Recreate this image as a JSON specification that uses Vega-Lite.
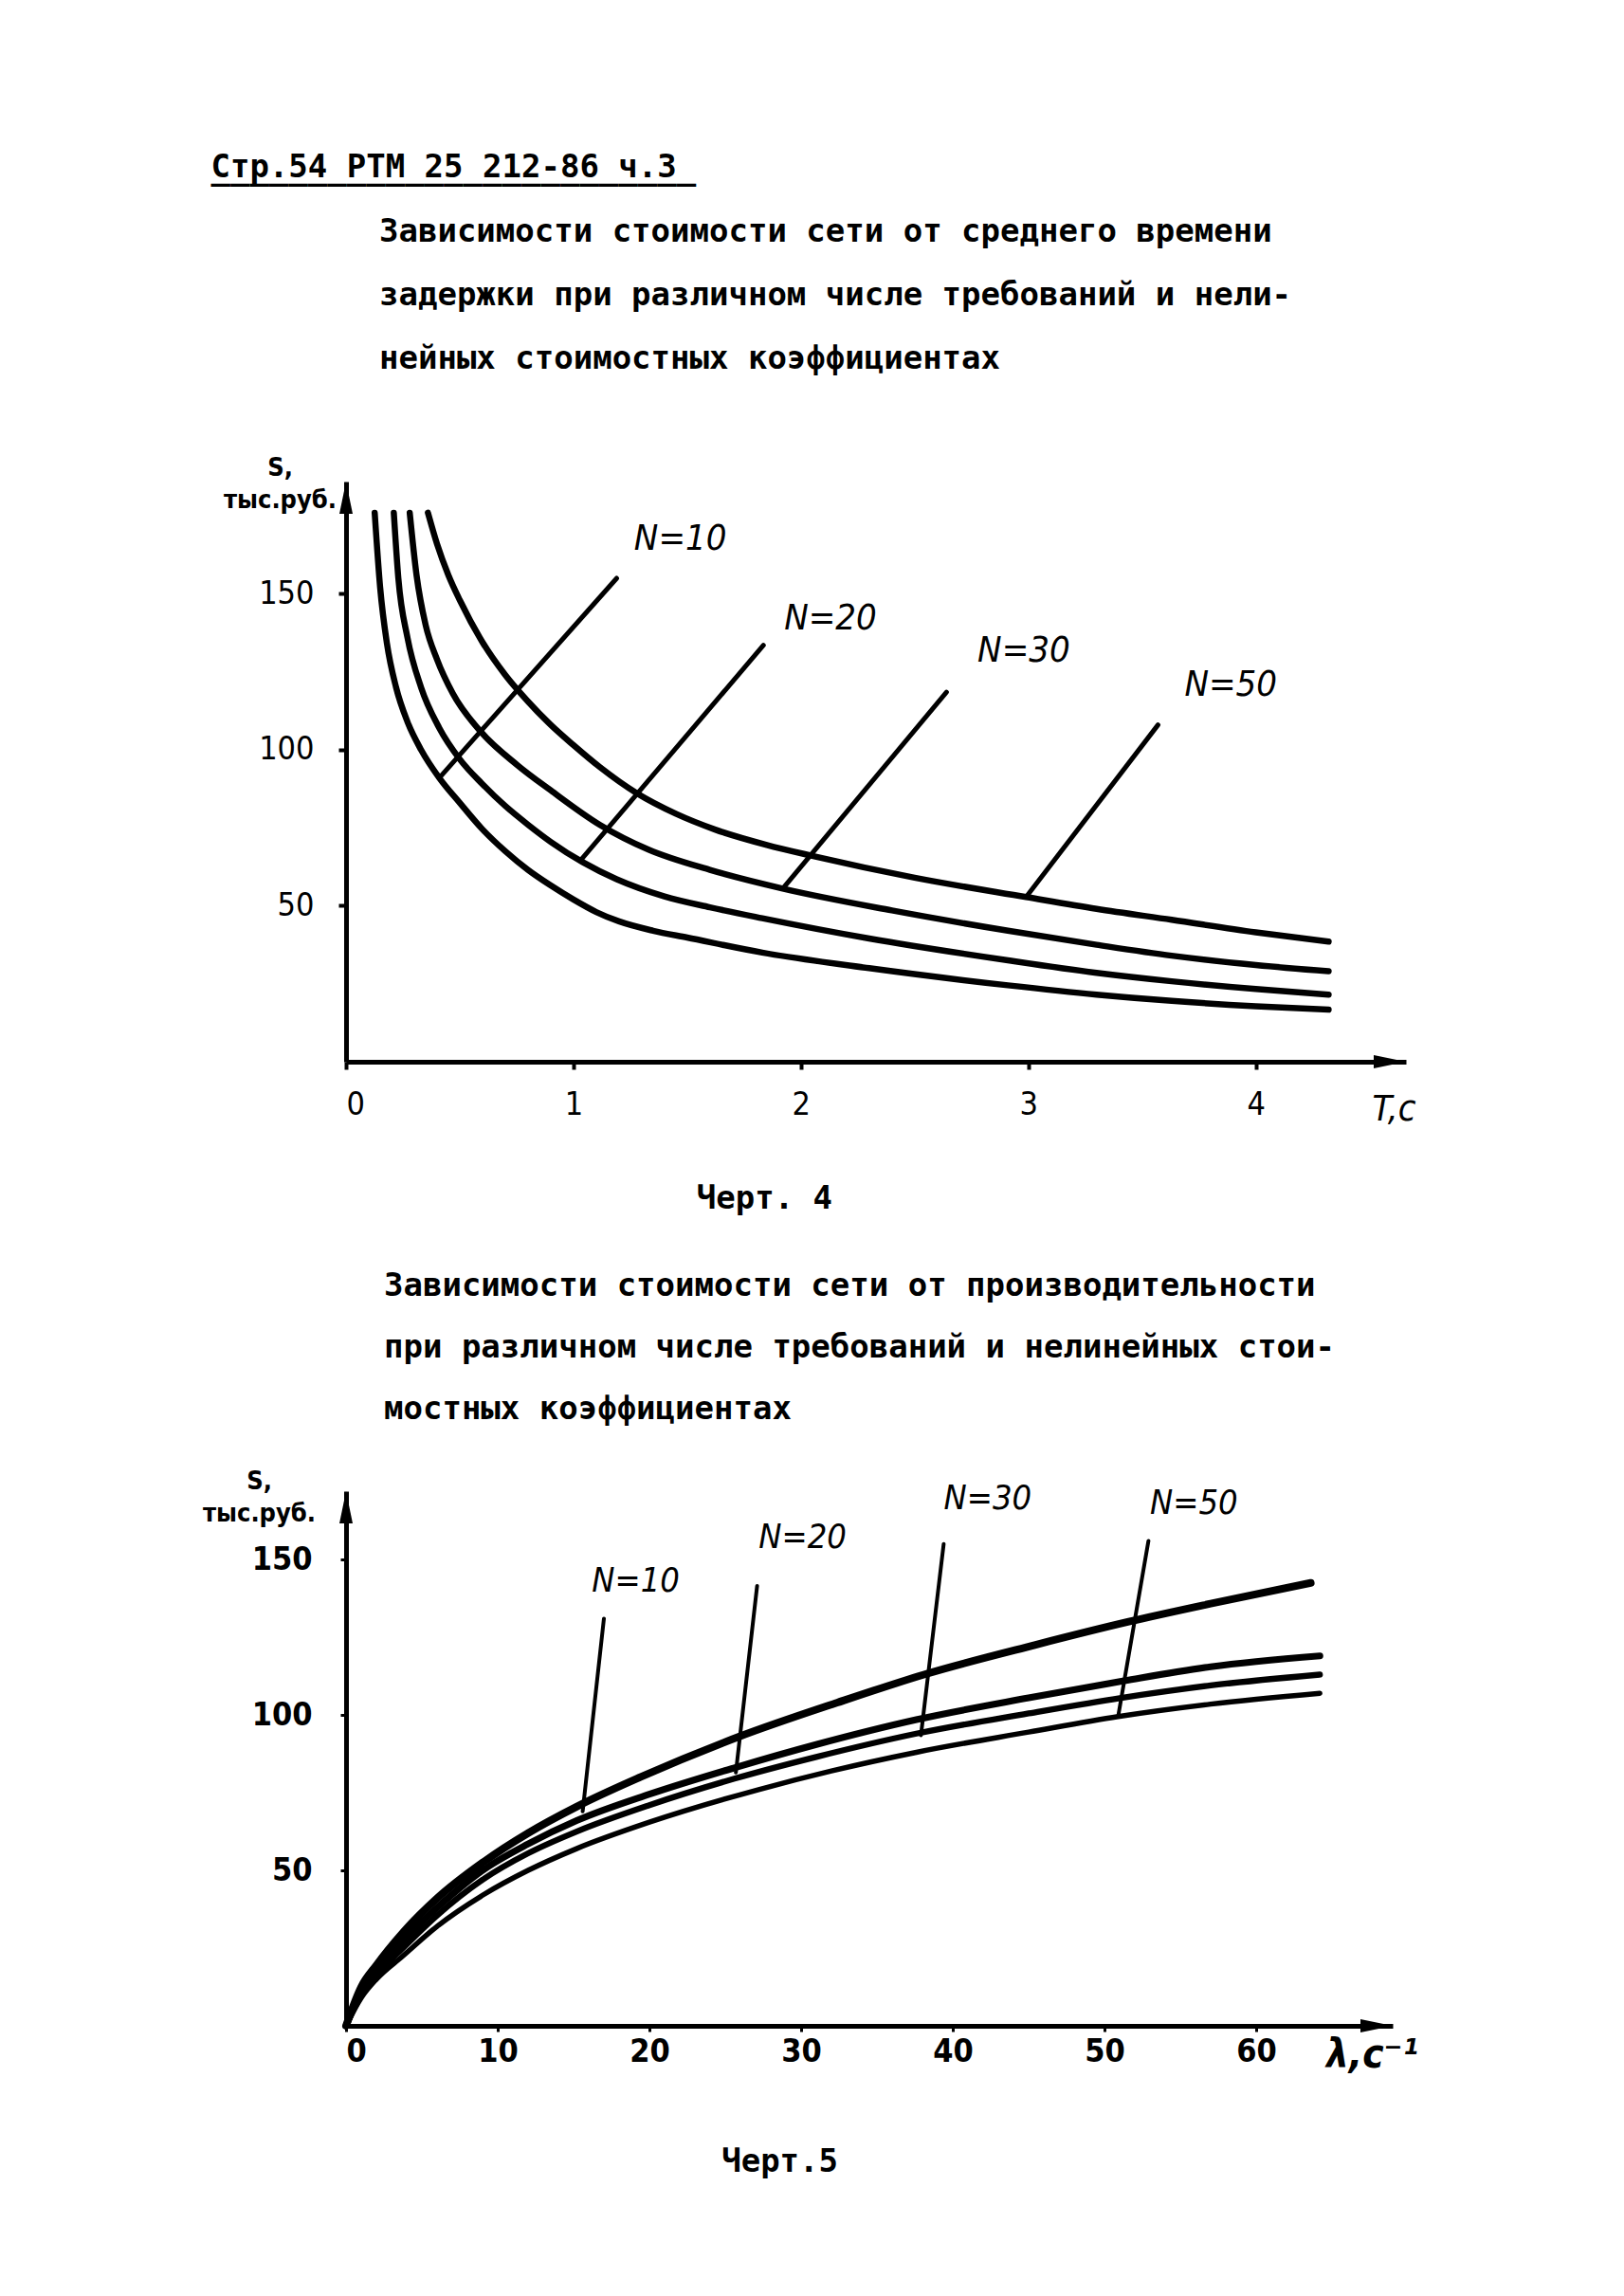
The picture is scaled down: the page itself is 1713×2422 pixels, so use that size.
{
  "$schema": "https://vega.github.io/schema/vega-lite/v6.json",
  "background": "white",
  "padding": {"left": 213, "top": 160, "right": 20, "bottom": 20},
  "title": {
    "text": "Стр.54 РТМ 25 212-86 ч.3",
    "subtitle": "_________________________",
    "anchor": "start",
    "frame": "bounds",
    "dx": 9,
    "offset": 32,
    "font": "DejaVu Sans Mono",
    "fontSize": 34,
    "fontWeight": "bold",
    "color": "black",
    "subtitleFont": "DejaVu Sans Mono",
    "subtitleFontSize": 34,
    "subtitleFontWeight": "bold",
    "subtitleColor": "black",
    "subtitlePadding": -32
  },
  "spacing": 58,
  "datasets": {
    "c1curves": [
      {"curve": "N=10", "T": 0.126, "S": 176}, {"curve": "N=10", "T": 0.15, "S": 152}, {"curve": "N=10", "T": 0.18, "S": 134}, {"curve": "N=10", "T": 0.22, "S": 120}, {"curve": "N=10", "T": 0.27, "S": 109}, {"curve": "N=10", "T": 0.33, "S": 100}, {"curve": "N=10", "T": 0.41, "S": 91}, {"curve": "N=10", "T": 0.5, "S": 83}, {"curve": "N=10", "T": 0.6, "S": 74.5}, {"curve": "N=10", "T": 0.7, "S": 67.5}, {"curve": "N=10", "T": 0.8, "S": 61.5}, {"curve": "N=10", "T": 0.9, "S": 56.5}, {"curve": "N=10", "T": 1.0, "S": 52}, {"curve": "N=10", "T": 1.1, "S": 48}, {"curve": "N=10", "T": 1.2, "S": 45}, {"curve": "N=10", "T": 1.35, "S": 42}, {"curve": "N=10", "T": 1.5, "S": 39.8}, {"curve": "N=10", "T": 1.83, "S": 35}, {"curve": "N=10", "T": 2.3, "S": 30}, {"curve": "N=10", "T": 2.91, "S": 24.5}, {"curve": "N=10", "T": 3.3, "S": 21.5}, {"curve": "N=10", "T": 3.63, "S": 19.5}, {"curve": "N=10", "T": 4.0, "S": 17.8}, {"curve": "N=10", "T": 4.32, "S": 16.7},
      {"curve": "N=20", "T": 0.21, "S": 176}, {"curve": "N=20", "T": 0.23, "S": 155}, {"curve": "N=20", "T": 0.27, "S": 136}, {"curve": "N=20", "T": 0.33, "S": 120}, {"curve": "N=20", "T": 0.41, "S": 107}, {"curve": "N=20", "T": 0.5, "S": 97}, {"curve": "N=20", "T": 0.6, "S": 89}, {"curve": "N=20", "T": 0.7, "S": 82}, {"curve": "N=20", "T": 0.8, "S": 76}, {"curve": "N=20", "T": 0.9, "S": 70.5}, {"curve": "N=20", "T": 1.04, "S": 64}, {"curve": "N=20", "T": 1.19, "S": 58.5}, {"curve": "N=20", "T": 1.4, "S": 53}, {"curve": "N=20", "T": 1.6, "S": 49.5}, {"curve": "N=20", "T": 1.83, "S": 46}, {"curve": "N=20", "T": 2.3, "S": 39.5}, {"curve": "N=20", "T": 2.91, "S": 32.5}, {"curve": "N=20", "T": 3.3, "S": 28.5}, {"curve": "N=20", "T": 3.63, "S": 25.8}, {"curve": "N=20", "T": 4.0, "S": 23.3}, {"curve": "N=20", "T": 4.32, "S": 21.5},
      {"curve": "N=30", "T": 0.28, "S": 176}, {"curve": "N=30", "T": 0.31, "S": 156}, {"curve": "N=30", "T": 0.35, "S": 140}, {"curve": "N=30", "T": 0.4, "S": 129}, {"curve": "N=30", "T": 0.47, "S": 118}, {"curve": "N=30", "T": 0.59, "S": 106}, {"curve": "N=30", "T": 0.755, "S": 95}, {"curve": "N=30", "T": 0.9, "S": 87}, {"curve": "N=30", "T": 1.115, "S": 76}, {"curve": "N=30", "T": 1.33, "S": 68}, {"curve": "N=30", "T": 1.6, "S": 61.5}, {"curve": "N=30", "T": 1.92, "S": 55.5}, {"curve": "N=30", "T": 2.4, "S": 48.5}, {"curve": "N=30", "T": 2.91, "S": 42}, {"curve": "N=30", "T": 3.3, "S": 37.5}, {"curve": "N=30", "T": 3.63, "S": 34}, {"curve": "N=30", "T": 4.0, "S": 31}, {"curve": "N=30", "T": 4.32, "S": 29},
      {"curve": "N=50", "T": 0.36, "S": 176}, {"curve": "N=50", "T": 0.4, "S": 166}, {"curve": "N=50", "T": 0.45, "S": 156}, {"curve": "N=50", "T": 0.5, "S": 148}, {"curve": "N=50", "T": 0.6, "S": 134.5}, {"curve": "N=50", "T": 0.7, "S": 124}, {"curve": "N=50", "T": 0.8, "S": 115.5}, {"curve": "N=50", "T": 0.9, "S": 108}, {"curve": "N=50", "T": 1.0, "S": 101.5}, {"curve": "N=50", "T": 1.115, "S": 94.5}, {"curve": "N=50", "T": 1.28, "S": 86}, {"curve": "N=50", "T": 1.45, "S": 79.5}, {"curve": "N=50", "T": 1.62, "S": 74.5}, {"curve": "N=50", "T": 1.85, "S": 69.5}, {"curve": "N=50", "T": 2.05, "S": 66}, {"curve": "N=50", "T": 2.5, "S": 59}, {"curve": "N=50", "T": 2.99, "S": 52.8}, {"curve": "N=50", "T": 3.3, "S": 49}, {"curve": "N=50", "T": 3.63, "S": 45.5}, {"curve": "N=50", "T": 4.0, "S": 41.5}, {"curve": "N=50", "T": 4.32, "S": 38.5}
    ],
    "c1leaders": [
      {"leader": "N=10", "T": 0.41, "S": 91}, {"leader": "N=10", "T": 1.19, "S": 155},
      {"leader": "N=20", "T": 1.03, "S": 64.5}, {"leader": "N=20", "T": 1.835, "S": 133.5},
      {"leader": "N=30", "T": 1.92, "S": 55.5}, {"leader": "N=30", "T": 2.64, "S": 118.5},
      {"leader": "N=50", "T": 2.99, "S": 52.8}, {"leader": "N=50", "T": 3.57, "S": 108}
    ],
    "c1labels": [
      {"label": "N=10", "T": 1.47, "S": 167.5},
      {"label": "N=20", "T": 2.13, "S": 142},
      {"label": "N=30", "T": 2.98, "S": 131.6},
      {"label": "N=50", "T": 3.89, "S": 120.8}
    ],
    "c2curves": [
      {"curve": "N=10", "L": 0, "S": 0}, {"curve": "N=10", "L": 1, "S": 12.5}, {"curve": "N=10", "L": 2, "S": 19.5}, {"curve": "N=10", "L": 3.75, "S": 30}, {"curve": "N=10", "L": 6, "S": 41}, {"curve": "N=10", "L": 9, "S": 52.5}, {"curve": "N=10", "L": 12, "S": 62}, {"curve": "N=10", "L": 15.2, "S": 70.5}, {"curve": "N=10", "L": 19.4, "S": 80}, {"curve": "N=10", "L": 25.9, "S": 93}, {"curve": "N=10", "L": 32.4, "S": 104}, {"curve": "N=10", "L": 38.1, "S": 113}, {"curve": "N=10", "L": 45.4, "S": 122.5}, {"curve": "N=10", "L": 51.6, "S": 130}, {"curve": "N=10", "L": 57, "S": 135.8}, {"curve": "N=10", "L": 63.6, "S": 142.5},
      {"curve": "N=20", "L": 0, "S": 0}, {"curve": "N=20", "L": 1, "S": 11}, {"curve": "N=20", "L": 2, "S": 18}, {"curve": "N=20", "L": 3.75, "S": 27.5}, {"curve": "N=20", "L": 6, "S": 38}, {"curve": "N=20", "L": 9, "S": 50}, {"curve": "N=20", "L": 12, "S": 58.5}, {"curve": "N=20", "L": 15.2, "S": 66}, {"curve": "N=20", "L": 20, "S": 74.5}, {"curve": "N=20", "L": 25.6, "S": 83}, {"curve": "N=20", "L": 31, "S": 90.5}, {"curve": "N=20", "L": 37.6, "S": 98.5}, {"curve": "N=20", "L": 45, "S": 105.5}, {"curve": "N=20", "L": 51.3, "S": 111}, {"curve": "N=20", "L": 57, "S": 115.5}, {"curve": "N=20", "L": 64.2, "S": 119},
      {"curve": "N=30", "L": 0, "S": 0}, {"curve": "N=30", "L": 1, "S": 10}, {"curve": "N=30", "L": 2, "S": 16.5}, {"curve": "N=30", "L": 3.75, "S": 25}, {"curve": "N=30", "L": 6, "S": 35.5}, {"curve": "N=30", "L": 9, "S": 47}, {"curve": "N=30", "L": 12, "S": 55.5}, {"curve": "N=30", "L": 15.2, "S": 62.5}, {"curve": "N=30", "L": 20, "S": 71}, {"curve": "N=30", "L": 25.6, "S": 79.5}, {"curve": "N=30", "L": 31, "S": 86.5}, {"curve": "N=30", "L": 37.6, "S": 94}, {"curve": "N=30", "L": 45, "S": 100.5}, {"curve": "N=30", "L": 51.1, "S": 105.5}, {"curve": "N=30", "L": 57, "S": 109.5}, {"curve": "N=30", "L": 64.2, "S": 113},
      {"curve": "N=50", "L": 0, "S": 0}, {"curve": "N=50", "L": 1, "S": 9}, {"curve": "N=50", "L": 2, "S": 15}, {"curve": "N=50", "L": 3.75, "S": 22.5}, {"curve": "N=50", "L": 6, "S": 32}, {"curve": "N=50", "L": 9, "S": 42}, {"curve": "N=50", "L": 12, "S": 50}, {"curve": "N=50", "L": 15.2, "S": 57}, {"curve": "N=50", "L": 20, "S": 65.5}, {"curve": "N=50", "L": 27.2, "S": 76}, {"curve": "N=50", "L": 32, "S": 82}, {"curve": "N=50", "L": 37.6, "S": 88}, {"curve": "N=50", "L": 45, "S": 94.5}, {"curve": "N=50", "L": 50.9, "S": 99.5}, {"curve": "N=50", "L": 57, "S": 103.5}, {"curve": "N=50", "L": 64.2, "S": 107}
    ],
    "c2leaders": [
      {"leader": "N=10", "L": 15.6, "S": 69}, {"leader": "N=10", "L": 17.0, "S": 131},
      {"leader": "N=20", "L": 25.7, "S": 81.5}, {"leader": "N=20", "L": 27.1, "S": 141.5},
      {"leader": "N=30", "L": 37.9, "S": 93.5}, {"leader": "N=30", "L": 39.4, "S": 155},
      {"leader": "N=50", "L": 50.9, "S": 99.5}, {"leader": "N=50", "L": 52.9, "S": 156}
    ],
    "c2labels": [
      {"label": "N=10", "L": 19.1, "S": 143},
      {"label": "N=20", "L": 30.1, "S": 157},
      {"label": "N=30", "L": 42.3, "S": 169.5},
      {"label": "N=50", "L": 55.9, "S": 168}
    ],
    "anchor": [{}]
  },
  "vconcat": [
    {
      "width": 1118,
      "height": 612,
      "title": {
        "text": ["Зависимости стоимости сети от среднего времени", "задержки при различном числе требований и нели-", "нейных стоимостных коэффициентах"],
        "anchor": "start",
        "frame": "group",
        "dx": 35,
        "offset": 83,
        "lineHeight": 67,
        "font": "DejaVu Sans Mono",
        "fontSize": 34,
        "fontWeight": "bold",
        "color": "black"
      },
      "layer": [
        {
          "data": {"name": "c1curves"},
          "mark": {"type": "line", "color": "black", "strokeWidth": 6.5, "interpolate": "monotone", "strokeCap": "round"},
          "encoding": {
            "x": {"field": "T", "type": "quantitative",
              "scale": {"domain": [0, 4.66], "nice": false, "zero": false},
              "axis": {"values": [0, 1, 2, 3, 4], "format": "d", "grid": false,
                "domainColor": "black", "domainWidth": 5, "tickColor": "black", "tickSize": 8, "tickWidth": 4,
                "labelFont": "DejaVu Sans Condensed, Liberation Sans, sans-serif", "labelFontSize": 34, "labelColor": "black", "labelPadding": 20,
                "title": "T,c", "titleFont": "DejaVu Sans Condensed, Liberation Sans, sans-serif", "titleFontSize": 38, "titleFontStyle": "italic", "titleFontWeight": "normal", "titleColor": "black",
                "titleAngle": 0, "titleAlign": "center", "titleBaseline": "middle", "titleX": 1105, "titleY": 50}},
            "y": {"field": "S", "type": "quantitative",
              "scale": {"domain": [0, 186], "nice": false, "zero": false},
              "axis": {"values": [50, 100, 150], "grid": false,
                "domainColor": "black", "domainWidth": 5, "tickColor": "black", "tickSize": 8, "tickWidth": 4,
                "labelFont": "DejaVu Sans Condensed, Liberation Sans, sans-serif", "labelFontSize": 34, "labelColor": "black", "labelPadding": 26,
                "title": ["S,", "тыс.руб."], "titleFont": "DejaVu Sans Condensed, Liberation Sans, sans-serif", "titleFontSize": 27, "titleFontWeight": "bold", "titleColor": "black",
                "titleAngle": 0, "titleAlign": "center", "titleBaseline": "top", "titleX": -70, "titleY": -28, "titleLineHeight": 34}},
            "detail": {"field": "curve"}
          }
        },
        {
          "data": {"name": "c1leaders"},
          "mark": {"type": "line", "color": "black", "strokeWidth": 5, "strokeCap": "round"},
          "encoding": {
            "x": {"field": "T", "type": "quantitative"},
            "y": {"field": "S", "type": "quantitative"},
            "detail": {"field": "leader"}
          }
        },
        {
          "data": {"name": "c1labels"},
          "mark": {"type": "text", "font": "DejaVu Sans Condensed, Liberation Sans, sans-serif", "fontSize": 38, "fontStyle": "italic", "align": "center", "baseline": "middle", "color": "black"},
          "encoding": {
            "x": {"field": "T", "type": "quantitative"},
            "y": {"field": "S", "type": "quantitative"},
            "text": {"field": "label"}
          }
        },
        {
          "data": {"name": "anchor"},
          "mark": {"type": "text", "font": "DejaVu Sans Mono", "fontSize": 34, "fontWeight": "bold", "align": "center", "baseline": "middle", "color": "black"},
          "encoding": {
            "x": {"datum": 1.84, "type": "quantitative"},
            "y": {"datum": -44, "type": "quantitative"},
            "text": {"value": "Черт. 4"}
          }
        },
        {
          "data": {"name": "anchor"},
          "mark": {"type": "point", "filled": true, "color": "black", "opacity": 1, "size": 400, "shape": "M0,0L-0.7,3.4L0.7,3.4Z"},
          "encoding": {
            "x": {"datum": 0, "type": "quantitative"},
            "y": {"datum": 186, "type": "quantitative"}
          }
        },
        {
          "data": {"name": "anchor"},
          "mark": {"type": "point", "filled": true, "color": "black", "opacity": 1, "size": 400, "shape": "M0,0L-3.4,-0.7L-3.4,0.7Z"},
          "encoding": {
            "x": {"datum": 4.66, "type": "quantitative"},
            "y": {"datum": 0, "type": "quantitative"}
          }
        }
      ]
    },
    {
      "width": 1104,
      "height": 564,
      "title": {
        "text": ["Зависимости стоимости сети от производительности", "при различном числе требований и нелинейных стои-", "мостных коэффициентах"],
        "anchor": "start",
        "frame": "group",
        "dx": 40,
        "offset": 44,
        "lineHeight": 65,
        "font": "DejaVu Sans Mono",
        "fontSize": 34,
        "fontWeight": "bold",
        "color": "black"
      },
      "layer": [
        {
          "data": {"name": "c2curves"},
          "mark": {"type": "line", "color": "black", "interpolate": "monotone", "strokeCap": "round"},
          "encoding": {
            "x": {"field": "L", "type": "quantitative",
              "scale": {"domain": [0, 69], "nice": false, "zero": false},
              "axis": {"values": [0, 10, 20, 30, 40, 50, 60], "format": "d", "grid": false,
                "domainColor": "black", "domainWidth": 5, "tickColor": "black", "tickSize": 6, "tickWidth": 3,
                "labelFont": "DejaVu Sans Condensed, Liberation Sans, sans-serif", "labelFontSize": 34, "labelFontWeight": "bold", "labelColor": "black", "labelPadding": 4,
                "title": "λ,c⁻¹", "titleFont": "DejaVu Sans Condensed, Liberation Sans, sans-serif", "titleFontSize": 42, "titleFontStyle": "italic", "titleFontWeight": "bold", "titleColor": "black",
                "titleAngle": 0, "titleAlign": "center", "titleBaseline": "middle", "titleX": 1082, "titleY": 30}},
            "y": {"field": "S", "type": "quantitative",
              "scale": {"domain": [0, 172], "nice": false, "zero": false},
              "axis": {"values": [50, 100, 150], "grid": false,
                "domainColor": "black", "domainWidth": 5, "tickColor": "black", "tickSize": 6, "tickWidth": 3,
                "labelFont": "DejaVu Sans Condensed, Liberation Sans, sans-serif", "labelFontSize": 34, "labelFontWeight": "bold", "labelColor": "black", "labelPadding": 30,
                "title": ["S,", "тыс.руб."], "titleFont": "DejaVu Sans Condensed, Liberation Sans, sans-serif", "titleFontSize": 27, "titleFontWeight": "bold", "titleColor": "black",
                "titleAngle": 0, "titleAlign": "center", "titleBaseline": "top", "titleX": -92, "titleY": -24, "titleLineHeight": 34}},
            "detail": {"field": "curve"},
            "strokeWidth": {"field": "curve", "type": "nominal", "scale": {"domain": ["N=10", "N=20", "N=30", "N=50"], "range": [8, 5.5, 5, 5]}, "legend": null}
          }
        },
        {
          "data": {"name": "c2leaders"},
          "mark": {"type": "line", "color": "black", "strokeWidth": 4, "strokeCap": "round"},
          "encoding": {
            "x": {"field": "L", "type": "quantitative"},
            "y": {"field": "S", "type": "quantitative"},
            "detail": {"field": "leader"}
          }
        },
        {
          "data": {"name": "c2labels"},
          "mark": {"type": "text", "font": "DejaVu Sans Condensed, Liberation Sans, sans-serif", "fontSize": 36, "fontStyle": "italic", "align": "center", "baseline": "middle", "color": "black"},
          "encoding": {
            "x": {"field": "L", "type": "quantitative"},
            "y": {"field": "S", "type": "quantitative"},
            "text": {"field": "label"}
          }
        },
        {
          "data": {"name": "anchor"},
          "mark": {"type": "text", "font": "DejaVu Sans Mono", "fontSize": 34, "fontWeight": "bold", "align": "center", "baseline": "middle", "color": "black"},
          "encoding": {
            "x": {"datum": 28.6, "type": "quantitative"},
            "y": {"datum": -44, "type": "quantitative"},
            "text": {"value": "Черт.5"}
          }
        },
        {
          "data": {"name": "anchor"},
          "mark": {"type": "point", "filled": true, "color": "black", "opacity": 1, "size": 400, "shape": "M0,0L-0.7,3.4L0.7,3.4Z"},
          "encoding": {
            "x": {"datum": 0, "type": "quantitative"},
            "y": {"datum": 172, "type": "quantitative"}
          }
        },
        {
          "data": {"name": "anchor"},
          "mark": {"type": "point", "filled": true, "color": "black", "opacity": 1, "size": 400, "shape": "M0,0L-3.4,-0.7L-3.4,0.7Z"},
          "encoding": {
            "x": {"datum": 69, "type": "quantitative"},
            "y": {"datum": 0, "type": "quantitative"}
          }
        }
      ]
    }
  ],
  "config": {
    "view": {"stroke": null}
  }
}
